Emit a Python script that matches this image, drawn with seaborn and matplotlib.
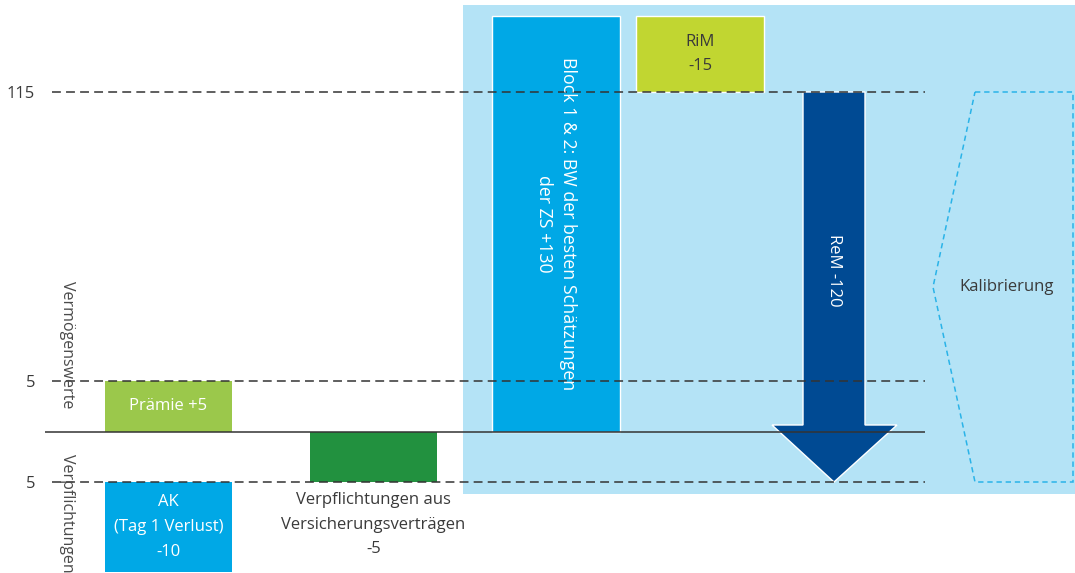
import numpy as np
import matplotlib
matplotlib.use("Agg")
import matplotlib.pyplot as plt
import seaborn as sns
from matplotlib.patches import Polygon, Rectangle
from matplotlib.transforms import blended_transform_factory

# ---------------- data ----------------
bar_names = ["Prämie", "AK", "Verpflichtungen", "Block 1 & 2", "RiM"]
bar_labels = ["Prämie +5",
              "AK\n(Tag 1 Verlust)\n-10",
              "Verpflichtungen aus\nVersicherungsverträgen\n-5",
              "Block 1 & 2: BW der besten Schätzungen\nder ZS +130",
              "RiM\n-15"]
bar_start = [0, -5, 0, 0, 130]
bar_end = [5, -10, -5, 130, 115]
arrow_label = "ReM -120"
arrow_start = 115
arrow_end = -5
ref_levels = [115, 5, -5]
tick_labels = ["115", "5", "5"]
side_labels = ["Vermögenswerte", "Verpflichtungen"]
calib_label = "Kalibrierung"

# ---------------- layout / style ----------------
bar_xc = [168.5, 168.5, 373.5, 556, 700]
bar_w = [127, 127, 127, 128, 128]
bar_colors = ["#9bc84b", "#00a8e6", "#22913f", "#00a8e6", "#c1d631"]
bar_edges = ["none", "none", "none", "white", "white"]
label_inside = [True, True, False, True, True]
label_rot = [0, 0, 0, 270, 0]
label_size = [12, 12, 12, 12.8, 12]
label_ls = [1.5, 1.72, 1.72, 1.4, 1.6]
label_color = ["white", "white", "#3a3a3a", "white", "#3a3a3a"]
TXT = "#3a3a3a"

# broken (schematic) value axis: value -> visual height
SV = np.array([-10.5, -10, -5, 0, 5, 115, 130, 134], float)
SH = 573 - np.array([573, 572, 482, 432, 381, 92, 16, 0], float)


def _pw(x, xp, fp):
    x = np.asarray(x, float)
    out = np.interp(x, xp, fp)
    s0 = (fp[1] - fp[0]) / (xp[1] - xp[0])
    s1 = (fp[-1] - fp[-2]) / (xp[-1] - xp[-2])
    out = np.where(x < xp[0], fp[0] + (x - xp[0]) * s0, out)
    out = np.where(x > xp[-1], fp[-1] + (x - xp[-1]) * s1, out)
    return out


def fwd(v):
    return _pw(v, SV, SH)


def inv(h):
    return _pw(h, SH, SV)


sns.set_theme(style="white")
plt.rcParams["font.family"] = ["Open Sans", "DejaVu Sans"]

fig = plt.figure(figsize=(10.75, 5.73), dpi=100)
fig.patch.set_facecolor("white")
ax = fig.add_axes([45 / 1075, 0, 1030 / 1075, 1])
ax.patch.set_visible(False)
ax.set_yscale("function", functions=(fwd, inv))
ax.set_xlim(45, 1075)
ax.set_ylim(-10.5, 134)

# light blue panel
bt = blended_transform_factory(ax.transData, ax.transAxes)
ax.add_patch(Rectangle((463, (573 - 494) / 573), 612, 489 / 573, transform=bt,
                       facecolor="#b4e3f6", edgecolor="none", zorder=0, clip_on=False))

# bars
for i in range(len(bar_names)):
    b0, b1 = bar_start[i], bar_end[i]
    ax.bar(bar_xc[i], b1 - b0, bottom=b0, width=bar_w[i], color=bar_colors[i],
           edgecolor=bar_edges[i], linewidth=1.0, zorder=2)
    if label_inside[i]:
        mid = float(inv((fwd(b0) + fwd(b1)) / 2))
        ax.text(bar_xc[i], mid, bar_labels[i],
                ha="center", va="center", rotation=label_rot[i], color=label_color[i],
                fontsize=label_size[i], linespacing=label_ls[i], zorder=5)
    else:
        lo = min(b0, b1)
        ax.text(bar_xc[i], float(inv(fwd(lo) - 10)), bar_labels[i], ha="center", va="top",
                color=label_color[i], fontsize=label_size[i], linespacing=label_ls[i], zorder=5)

# ReM arrow
sx0, sx1 = 803, 865
hx0, hx1 = 772, 897
tipx = 834
hb = float(inv(fwd(arrow_end) + 57))
arrow = Polygon([(sx0, arrow_start), (sx1, arrow_start), (sx1, hb), (hx1, hb),
                 (tipx, arrow_end), (hx0, hb), (sx0, hb)], closed=True,
                facecolor="#004a93", edgecolor="white", linewidth=1.0, zorder=2)
ax.add_patch(arrow)
ax.text(tipx, 47, arrow_label, rotation=270, ha="center", va="center",
        color="white", fontsize=12, zorder=5)

# reference lines
ax.hlines(ref_levels, 52, 925, colors="#333333", linewidth=1.1,
          linestyles=[(0, (5.8, 3.4))], zorder=3)
ax.hlines([0], 45, 925, colors="#333333", linewidth=1.1, zorder=3)

# Kalibrierung bracket
cmid = float(inv((fwd(arrow_start) + fwd(arrow_end)) / 2))
calib = Polygon([(975, arrow_start), (1073, arrow_start), (1073, arrow_end),
                 (975, arrow_end), (933, cmid)], closed=True, facecolor="none",
                edgecolor="#2ab3e8", linewidth=1.1, linestyle=(0, (3.5, 2.5)), zorder=3)
ax.add_patch(calib)
ax.text(1007, cmid, calib_label, ha="center", va="center", color=TXT, fontsize=12, zorder=5)

# side labels
fig.text(67 / 1075, 1 - 345 / 573, side_labels[0], rotation=270, ha="center", va="center",
         color="#4a4a4a", fontsize=11.5)
fig.text(67 / 1075, 1 - 513 / 573, side_labels[1], rotation=270, ha="center", va="center",
         color="#4a4a4a", fontsize=11.5)

# axes cosmetics
ax.set_xticks([])
ax.set_yticks(ref_levels)
ax.set_yticklabels(tick_labels, color=TXT, fontsize=12)
ax.tick_params(axis="y", length=0, pad=7)
for s in ax.spines.values():
    s.set_visible(False)

fig.savefig("out.png", dpi=100)
